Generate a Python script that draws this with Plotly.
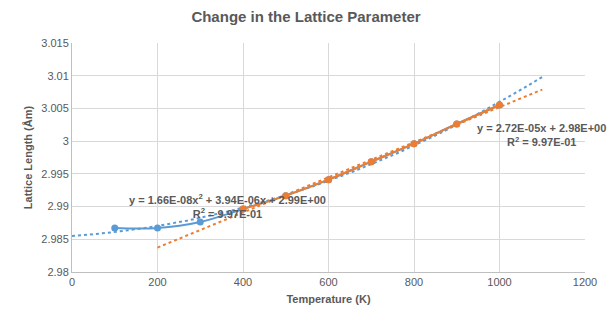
import numpy as np
import plotly.graph_objects as go

# Data
temp_blue = [100, 200, 300, 400, 500, 600, 700, 800, 900, 1000]
lat_blue = [2.98673, 2.98673, 2.98765, 2.98963, 2.99167, 2.99411, 2.99686, 2.99962, 3.00263, 3.00553]
temp_orange = [400, 500, 600, 700, 800, 900, 1000]
lat_orange = [2.98963, 2.99167, 2.99411, 2.99686, 2.99962, 3.00263, 3.00553]

x_ticks = [0, 200, 400, 600, 800, 1000, 1200]
y_ticks = [2.98, 2.985, 2.99, 2.995, 3.0, 3.005, 3.01, 3.015]
y_tick_text = ["2.98", "2.985", "2.99", "2.995", "3", "3.005", "3.01", "3.015"]

eq_blue = "<b>y = 1.66E-08x<sup>2</sup> + 3.94E-06x + 2.99E+00<br>R<sup>2</sup> = 9.97E-01</b>"
eq_orange = "<b>y = 2.72E-05x + 2.98E+00<br>R<sup>2</sup> = 9.97E-01</b>"

BLUE = "#5B9BD5"
ORANGE = "#ED7D31"
TXT = "#595959"
GRID = "#D9D9D9"

# Trendlines (Excel-style): polynomial order 2 for blue, linear for orange
pb = np.polyfit(temp_blue, lat_blue, 2)
xb = np.linspace(0, 1100, 120)
po = np.polyfit(temp_orange, lat_orange, 1)
xo = np.linspace(200, 1100, 60)

fig = go.Figure()
fig.add_trace(go.Scatter(x=xb, y=np.polyval(pb, xb), mode="lines",
                         line=dict(color=BLUE, width=2, dash="dot"), hoverinfo="skip"))
fig.add_trace(go.Scatter(x=xo, y=np.polyval(po, xo), mode="lines",
                         line=dict(color=ORANGE, width=2, dash="dot"), hoverinfo="skip"))
fig.add_trace(go.Scatter(x=temp_blue, y=lat_blue, mode="lines+markers",
                         line=dict(color=BLUE, width=2, shape="spline"),
                         marker=dict(color=BLUE, size=7)))
fig.add_trace(go.Scatter(x=temp_orange, y=lat_orange, mode="lines+markers",
                         line=dict(color=ORANGE, width=2, shape="spline"),
                         marker=dict(color=ORANGE, size=7)))

fig.add_annotation(x=364, y=2.9901, xref="x", yref="y", text=eq_blue, showarrow=False,
                   font=dict(family="Liberation Sans", size=11, color=TXT),
                   align="center", xanchor="center", yanchor="middle")
fig.add_annotation(x=1099, y=3.0010, xref="x", yref="y", text=eq_orange, showarrow=False,
                   font=dict(family="Liberation Sans", size=11, color=TXT),
                   align="center", xanchor="center", yanchor="middle")

fig.update_layout(
    width=612, height=329,
    margin=dict(l=72, r=27, t=43, b=57),
    paper_bgcolor="white", plot_bgcolor="white",
    showlegend=False,
    font=dict(family="Liberation Sans", color=TXT, size=11),
    title=dict(text="<b>Change in the Lattice Parameter</b>", x=0.5, xanchor="center",
               y=1 - 17 / 329, yanchor="middle",
               font=dict(family="Liberation Sans", size=15, color=TXT)),
    xaxis=dict(range=[0, 1200], tickvals=x_ticks, showgrid=True, gridcolor=GRID, gridwidth=1,
               showline=True, linecolor="#BFBFBF", linewidth=1, zeroline=False,
               ticks="", tickfont=dict(size=11, color=TXT),
               title=dict(text="<b>Temperature (K)</b>", font=dict(size=11, color=TXT), standoff=8)),
    yaxis=dict(range=[2.98, 3.015], tickvals=y_ticks, ticktext=y_tick_text, showgrid=True,
               gridcolor=GRID, gridwidth=1, showline=True, linecolor="#BFBFBF", linewidth=1,
               zeroline=False, ticks="", tickfont=dict(size=11, color=TXT),
               title=dict(text="<b>Lattice Length (Åm)</b>", font=dict(size=11, color=TXT), standoff=6)),
)

fig.write_html("out.html")
